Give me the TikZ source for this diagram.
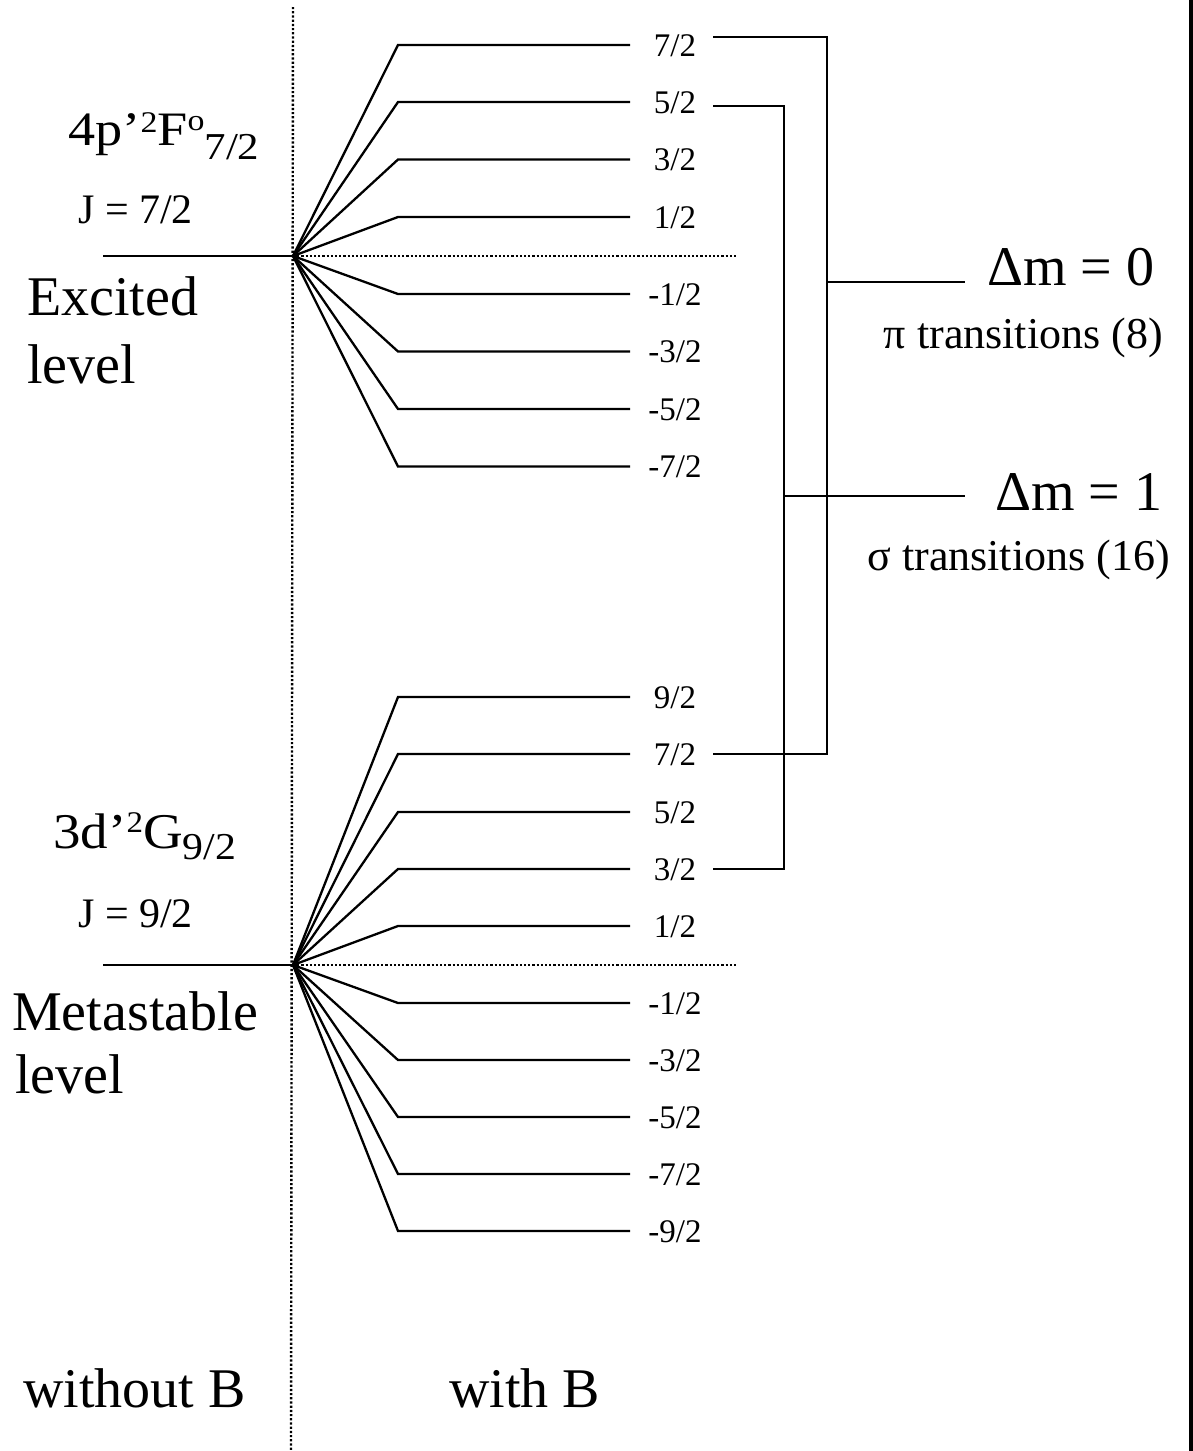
\documentclass[tikz,border=0pt]{standalone}
\usepackage{fontspec}
\setmainfont{Liberation Serif}
\usepackage{graphicx}
\tikzset{
  lvl/.style={line width=2.3pt, line join=miter},
  dotline/.style={line width=2.4pt, dash pattern=on 2.2pt off 2pt},
  mlab/.style={font=\fontsize{33}{35}\selectfont, anchor=base, inner sep=0pt},
  bigtext/.style={font=\fontsize{56}{60}\selectfont, anchor=base west, inner sep=0pt},
  jtext/.style={font=\fontsize{42}{44}\selectfont, anchor=base west, inner sep=0pt},
  transtext/.style={font=\fontsize{44}{46}\selectfont, anchor=base east, inner sep=0pt},
}
\newcommand{\supx}[2]{\raisebox{#1}{\fontsize{30}{30}\selectfont #2}}
\newcommand{\subx}[2]{\raisebox{#1}{\fontsize{38}{38}\selectfont #2}}
\begin{document}
\begin{tikzpicture}[x=1pt,y=-1pt]
\useasboundingbox (0,0) rectangle (1193,1451);

% frame edge on the right
\fill (1189,0) rectangle (1193,1451);

% divider between "without B" and "with B"
\coordinate (vtop) at (293,7);
\coordinate (vbot) at (291,1451);
\draw[dotline] (vtop) -- (vbot);

% ---------------- excited level ----------------
\coordinate (U) at (293,256);
\coordinate (Ul) at (103,256);
\coordinate (Ud) at (738,256);
\draw[lvl] (Ul) -- (U);
\draw[dotline] (U) -- (Ud);
\foreach \i/\num/\yy in {1/7/45, 2/5/102, 3/3/159.5, 4/1/217,
                          5/-1/294, 6/-3/351.5, 7/-5/409, 8/-7/466.5}{
  \coordinate (ub\i) at (398,\yy);
  \coordinate (ue\i) at (630,\yy);
  \draw[lvl] (U) -- (ub\i) -- (ue\i);
  \node[mlab] (ul\i) at (675,\yy+11) {\num/2};
}

% ---------------- metastable level ----------------
\coordinate (L) at (293,965);
\coordinate (Ll) at (103,965);
\coordinate (Ld) at (738,965);
\draw[lvl] (Ll) -- (L);
\draw[dotline] (L) -- (Ld);
\foreach \i/\num/\yy in {1/9/697, 2/7/754, 3/5/812, 4/3/869, 5/1/926,
                          6/-1/1003, 7/-3/1060, 8/-5/1117, 9/-7/1174, 10/-9/1231}{
  \coordinate (lb\i) at (398,\yy);
  \coordinate (le\i) at (630,\yy);
  \draw[lvl] (L) -- (lb\i) -- (le\i);
  \node[mlab] (ll\i) at (675,\yy+11) {\num/2};
}

% ---------------- transition brackets ----------------
\coordinate (pi1) at (713,37);
\coordinate (pi2) at (713,754);
\coordinate (pibar) at (827,37);
\draw[lvl] (pi1) -- (pibar) |- (pi2);
\coordinate (sg1) at (713,106);
\coordinate (sg2) at (713,869);
\coordinate (sgbar) at (784,106);
\draw[lvl] (sg1) -- (sgbar) |- (sg2);

\coordinate (d0a) at (827,282);
\coordinate (d0b) at (965,282);
\draw[lvl] (d0a) -- (d0b);
\coordinate (d1a) at (784,496);
\coordinate (d1b) at (965,496);
\draw[lvl] (d1a) -- (d1b);

\node[bigtext] (dm0) at (987,285) {Δm = 0};
\node[transtext] (pitr) at (1163,348) {π transitions (8)};
\node[bigtext] (dm1) at (995,510) {Δm = 1};
\node[transtext] (sgtr) at (1170,570) {σ transitions (16)};

% ---------------- level labels ----------------
\node[anchor=base west, inner sep=0pt] (termU) at (68,145)
  {\scalebox{1.13}[1]{\fontsize{48}{50}\selectfont 4p’\supx{13pt}{2}F\supx{15pt}{o}\subx{-14pt}{7/2}}};
\node[jtext] (jU) at (78,223) {J = 7/2};
\node[bigtext] (exc) at (27,315) {Excited};
\node[bigtext] (exc2) at (27,383) {level};

\node[anchor=base west, inner sep=0pt] (termL) at (53,848)
  {\scalebox{1.1}[1]{\fontsize{50}{52}\selectfont 3d’\supx{16pt}{2}G\subx{-11pt}{9/2}}};
\node[jtext] (jL) at (78,927) {J = 9/2};
\node[bigtext] (met) at (12,1030) {Metastable};
\node[bigtext] (met2) at (15,1093) {level};

\node[bigtext] (woB) at (23,1407) {without B};
\node[bigtext] (wB) at (449,1407) {with B};
\end{tikzpicture}
\end{document}
